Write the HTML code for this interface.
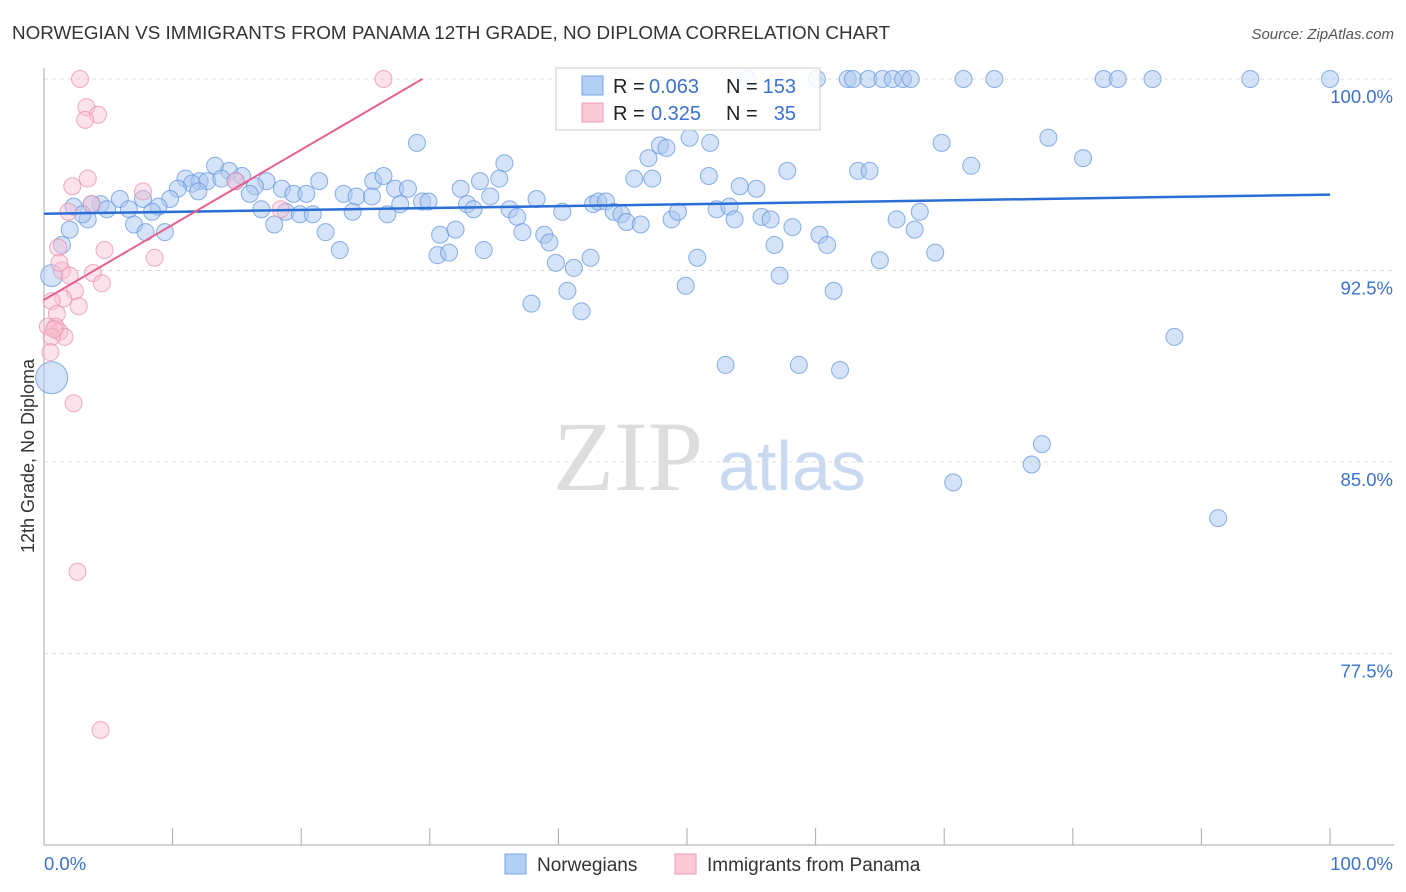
<!DOCTYPE html>
<html><head><meta charset="utf-8"><style>
body{margin:0;background:#fff;width:1406px;height:892px;overflow:hidden;font-family:"Liberation Sans",sans-serif}
svg{position:absolute;left:0;top:0}
</style></head><body>
<svg id="chart" width="1406" height="892" xmlns="http://www.w3.org/2000/svg">
<text x="12" y="39" font-size="18" fill="#333" textLength="878" lengthAdjust="spacingAndGlyphs">NORWEGIAN VS IMMIGRANTS FROM PANAMA 12TH GRADE, NO DIPLOMA CORRELATION CHART</text>
<text x="1394" y="39" font-size="15" fill="#555" font-style="italic" text-anchor="end">Source: ZipAtlas.com</text>
<g>
<text x="553" y="490" font-size="100" font-family="Liberation Serif,serif" fill="#ddd">ZIP</text>
<text x="718" y="490" font-size="70" fill="#c9daf0">atlas</text>
</g>
<g id="grid"></g>
<g id="axes"></g>
<g id="pts"></g>
<g id="trends"></g>
<text transform="translate(34,456) rotate(-90)" font-size="18" fill="#333" text-anchor="middle">12th Grade, No Diploma</text>
<g>
<rect x="556" y="68" width="264" height="62" fill="#fff" fill-opacity="0.85" stroke="#ccc"/>
<rect x="582" y="76" width="21" height="19" fill="#b3cff5" stroke="#7aa6e0"/>
<rect x="582" y="103" width="21" height="19" fill="#fbc9d8" stroke="#ee9ab4"/>
<text x="613" y="93" font-size="20" fill="#222">R =</text>
<text x="649" y="93" font-size="20" fill="#3a72d0">0.063</text>
<text x="726" y="93" font-size="20" fill="#222">N =</text>
<text x="796" y="93" font-size="20" fill="#3a72d0" text-anchor="end">153</text>
<text x="613" y="120" font-size="20" fill="#222">R =</text>
<text x="651" y="120" font-size="20" fill="#3a72d0">0.325</text>
<text x="726" y="120" font-size="20" fill="#222">N =</text>
<text x="796" y="120" font-size="20" fill="#3a72d0" text-anchor="end">35</text>
</g>
<g>
<rect x="505" y="854" width="21" height="20" fill="#b3cff5" stroke="#7aa6e0"/>
<text x="537" y="871" font-size="19" fill="#333">Norwegians</text>
<rect x="675" y="854" width="21" height="20" fill="#fbc9d8" stroke="#ee9ab4"/>
<text x="707" y="871" font-size="19" fill="#333">Immigrants from Panama</text>
</g>
</svg>
<script>
const yTicks=[100,92.5,85,77.5];
const yTickLabels=["100.0%","92.5%","85.0%","77.5%"];
const xTickLabels=["0.0%","100.0%"];
const blueX=[60.1,62.5,62.9,64.1,65.2,66.0,66.8,67.4,71.5,73.9,82.4,83.5,86.2,93.8,100,54.7,
29.0,50.2,47.9,48.4,47.0,35.8,13.3,14.4,15.4,11.0,12.1,11.5,10.4,12.7,13.8,14.9,17.3,16.4,18.5,21.4,19.4,20.4,16.0,12.0,9.8,8.9,7.7,5.9,4.4,3.7,2.3,4.9,6.6,8.4,3.4,3.0,2.0,1.4,7.0,7.9,9.4,16.9,17.9,18.8,19.9,20.9,21.9,23.0,24.0,23.3,24.3,25.6,26.4,25.5,26.7,27.3,27.7,28.3,29.4,29.9,30.8,30.6,31.5,32.0,32.4,32.9,33.4,33.9,34.2,34.7,35.4,36.2,36.8,37.2,38.3,38.9,39.3,39.8,40.3,40.7,41.2,41.8,42.5,42.7,43.1,43.7,44.3,44.9,45.3,45.9,46.4,47.3,37.9,48.8,49.3,49.9,50.8,51.7,51.8,52.3,53.3,53.7,54.1,55.4,55.8,56.5,56.8,57.2,57.8,58.2,60.3,60.9,61.4,61.9,58.7,53.0,63.3,64.2,65.0,66.3,67.7,68.1,69.3,69.8,72.1,78.1,80.8,87.9,77.6,76.8,70.7,91.3,0.6,0.6];
const blueY=[100,100,100,100,100,100,100,100,100,100,100,100,100,100,100,100,
97.5,97.7,97.4,97.3,96.9,96.7,96.6,96.4,96.2,96.1,96.0,95.9,95.7,96.0,96.1,96.0,96.0,95.8,95.7,96.0,95.5,95.5,95.5,95.6,95.3,95.0,95.3,95.3,95.1,95.1,95.0,94.9,94.9,94.8,94.5,94.7,94.1,93.5,94.3,94.0,94.0,94.9,94.3,94.8,94.7,94.7,94.0,93.3,94.8,95.5,95.4,96.0,96.2,95.4,94.7,95.7,95.1,95.7,95.2,95.2,93.9,93.1,93.2,94.1,95.7,95.1,94.9,96.0,93.3,95.4,96.1,94.9,94.6,94.0,95.3,93.9,93.6,92.8,94.8,91.7,92.6,90.9,93.0,95.1,95.2,95.2,94.8,94.7,94.4,96.1,94.3,96.1,91.2,94.5,94.8,91.9,93.0,96.2,97.5,94.9,95.0,94.5,95.8,95.7,94.6,94.5,93.5,92.3,96.4,94.2,93.9,93.5,91.7,88.6,88.8,88.8,96.4,96.4,92.9,94.5,94.1,94.8,93.2,97.5,96.6,97.7,96.9,89.9,85.7,84.9,84.2,82.8,92.3,88.3];
const pinkX=[2.8,26.4,3.3,4.2,3.2,3.4,2.2,7.7,1.9,18.4,14.9,3.7,8.6,1.1,4.7,1.4,2.0,3.8,4.5,2.4,1.5,2.7,0.6,1.0,0.9,0.3,1.2,1.6,0.6,0.5,2.3,2.6,4.4,1.2,0.8];
const pinkY=[100,100,98.9,98.6,98.4,96.1,95.8,95.6,94.8,94.9,96.0,95.1,93.0,93.4,93.3,92.5,92.3,92.4,92.0,91.7,91.4,91.1,91.3,90.8,90.3,90.3,90.1,89.9,89.9,89.3,87.3,80.7,74.5,92.8,90.2];
const blueTrend=[94.72,95.47];   // y at x=0, x=100
const pinkTrend=[91.35,0.294];   // intercept, slope
const X0=44,X1=1330,Y0=79,PXPER=25.53;
function sx(v){return X0+(X1-X0)*v/100;}
function sy(v){return Y0+(100-v)*PXPER;}
const NS="http://www.w3.org/2000/svg";
function mk(tag,attrs,parent){const e=document.createElementNS(NS,tag);for(const k in attrs)e.setAttribute(k,attrs[k]);parent.appendChild(e);return e;}
const grid=document.getElementById('grid'),axes=document.getElementById('axes'),pts=document.getElementById('pts'),tr=document.getElementById('trends');
yTicks.forEach((t,i)=>{
 const l=mk('line',{x1:44,x2:1394,y1:sy(t),y2:sy(t),stroke:'#ddd','stroke-dasharray':'4,4'},grid);
 
 
 const tx=mk('text',{x:1393,y:sy(t)+24,'font-size':18.5,fill:'#3a72d0','text-anchor':'end'},grid);
 tx.textContent=yTickLabels[i];
 
 
});
mk('line',{x1:44,x2:44,y1:68,y2:845,stroke:'#aaa'},axes);
mk('line',{x1:44,x2:1394,y1:845,y2:845,stroke:'#aaa'},axes);
for(let i=0;i<=10;i++){const t=mk('line',{x1:sx(i*10),x2:sx(i*10),y1:828,y2:845,stroke:'#aaa'},axes);
 
 }
const xl0=mk('text',{x:44,y:870,'font-size':18.5,fill:'#3a72d0'},axes);xl0.textContent=xTickLabels[0];


const xl1=mk('text',{x:1393,y:870,'font-size':18.5,fill:'#3a72d0','text-anchor':'end'},axes);xl1.textContent=xTickLabels[1];


blueX.forEach((x,i)=>{
 const r=(i===blueX.length-1)?16:(i===blueX.length-2?11:8.5);
 const c=mk('circle',{cx:sx(x),cy:sy(blueY[i]),r:r,fill:'#a9c7f0','fill-opacity':0.5,stroke:'#5b90dd','stroke-opacity':0.7,'stroke-width':1},pts);
 
 
});
pinkX.forEach((x,i)=>{
 const c=mk('circle',{cx:sx(x),cy:sy(pinkY[i]),r:8.5,fill:'#f9bfd0','fill-opacity':0.45,stroke:'#e98aa8','stroke-opacity':0.7,'stroke-width':1},pts);
 
 
});
const bl=mk('line',{x1:sx(0),y1:sy(blueTrend[0]),x2:sx(100),y2:sy(blueTrend[1]),stroke:'#2b6fd6','stroke-width':2.5},tr);


const xe=(100-pinkTrend[0])/pinkTrend[1];
const pl=mk('line',{x1:sx(0),y1:sy(pinkTrend[0]),x2:sx(xe),y2:sy(100),stroke:'#e8608c','stroke-width':2},tr);


</script>
</body></html>
